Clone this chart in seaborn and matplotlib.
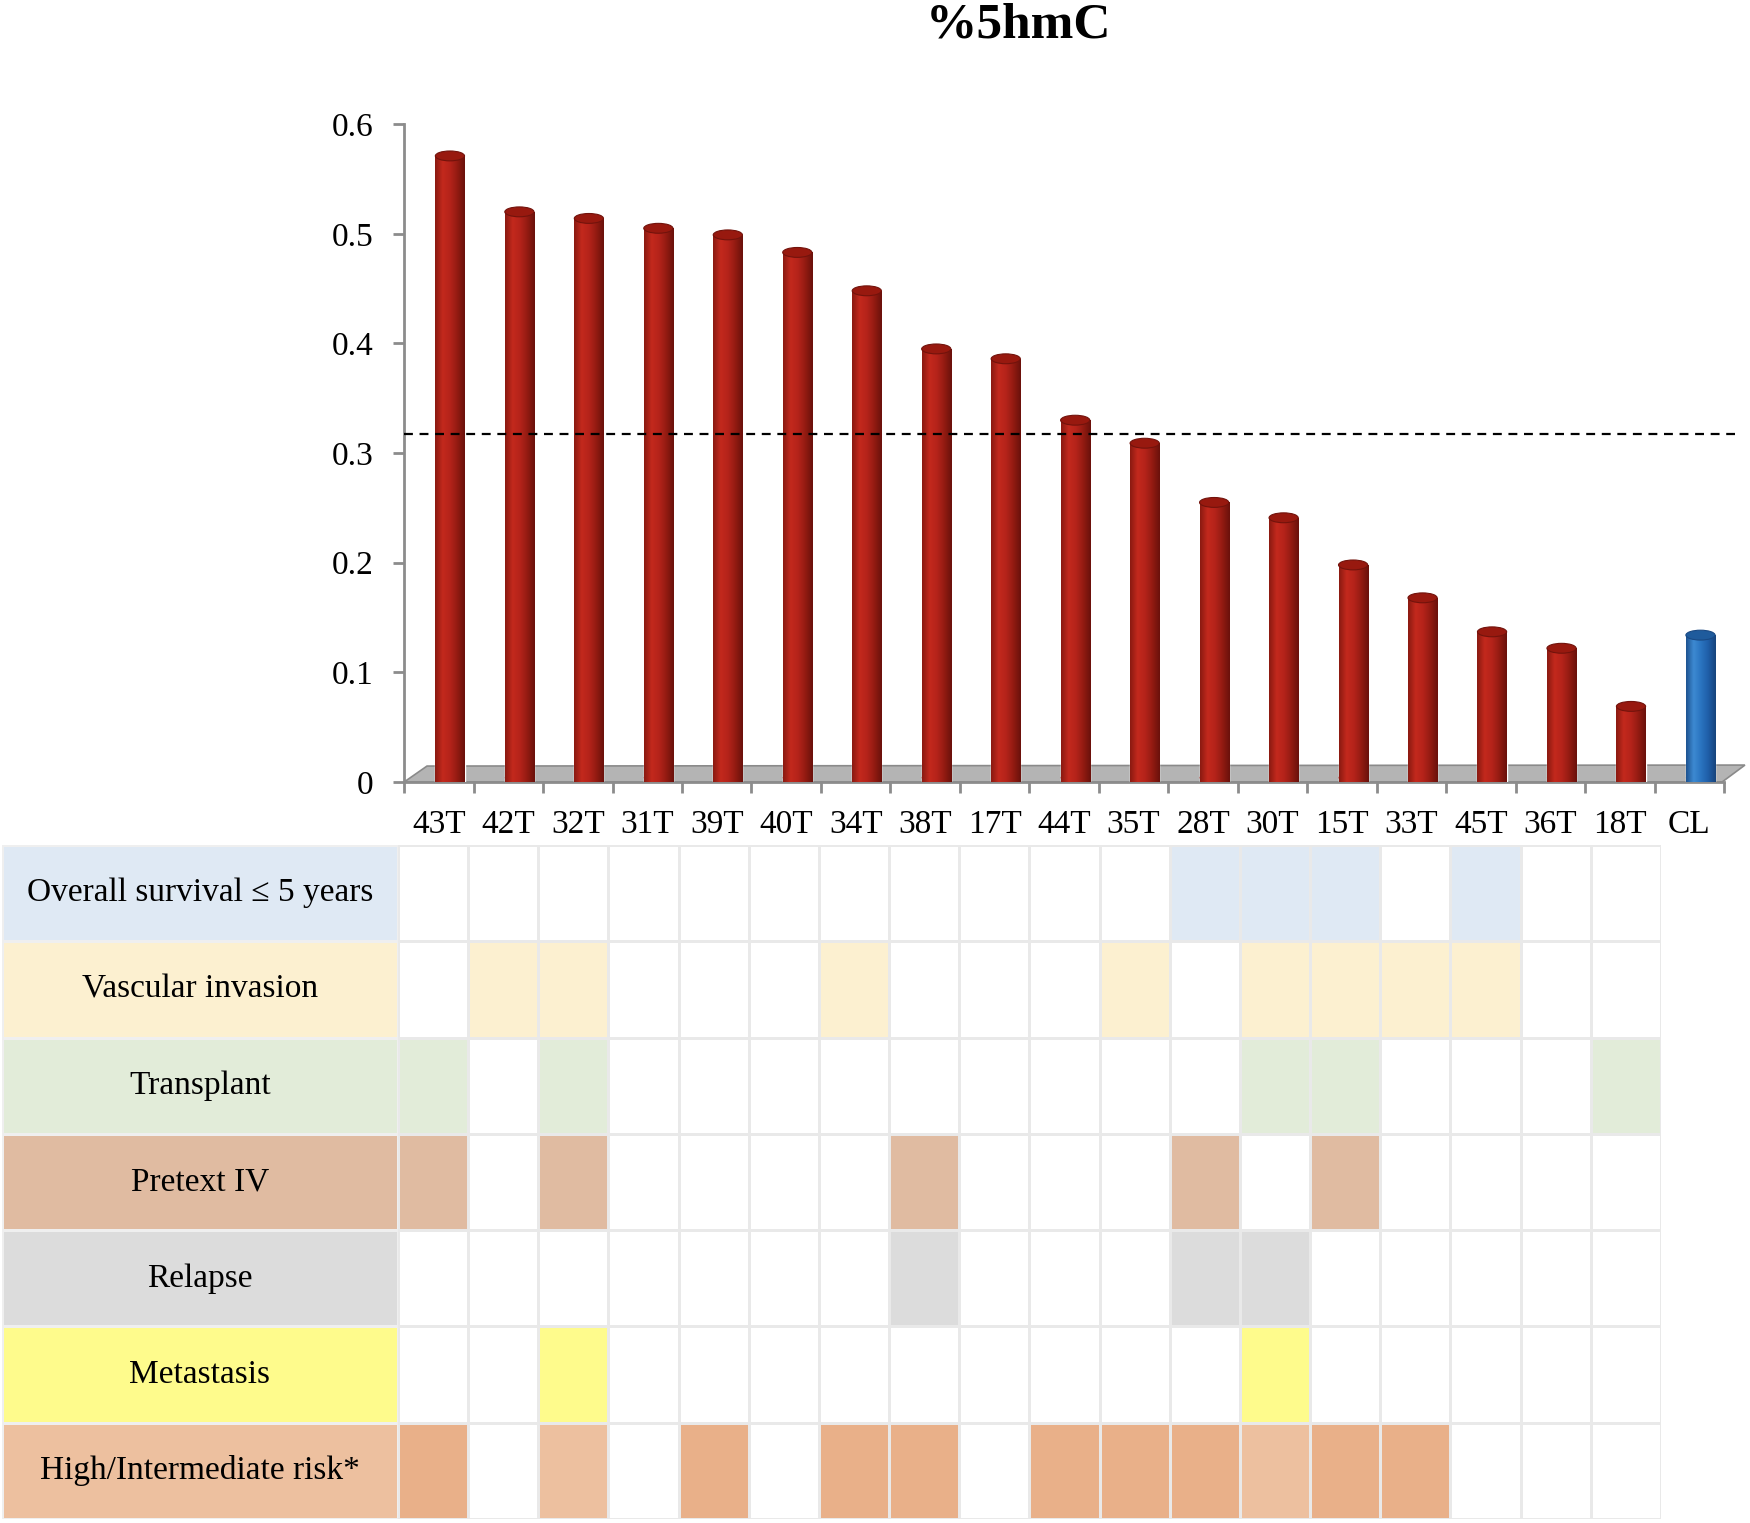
import numpy as np
import pandas as pd
import matplotlib
matplotlib.use("Agg")
import matplotlib.pyplot as plt
import seaborn as sns
from matplotlib.colors import ListedColormap, LinearSegmentedColormap
from matplotlib.patches import Ellipse, Polygon

# --- data ---
samples = ["43T", "42T", "32T", "31T", "39T", "40T", "34T", "38T", "17T", "44T",
           "35T", "28T", "30T", "15T", "33T", "45T", "36T", "18T", "CL"]
hmc = [0.571, 0.520, 0.514, 0.505, 0.499, 0.483, 0.448, 0.395, 0.386, 0.330,
       0.309, 0.255, 0.241, 0.198, 0.168, 0.137, 0.122, 0.069, 0.134]
group = ["tumor"] * 18 + ["cell line"]
threshold = 0.317

features = ["Overall survival \u2264 5 years", "Vascular invasion", "Transplant",
            "Pretext IV", "Relapse", "Metastasis", "High/Intermediate risk*"]
os_5y      = [0, 0, 0, 0, 0, 0, 0, 0, 0, 0, 0, 1, 1, 1, 0, 1, 0, 0]
vascular   = [0, 1, 1, 0, 0, 0, 1, 0, 0, 0, 1, 0, 1, 1, 1, 1, 0, 0]
transplant = [1, 0, 1, 0, 0, 0, 0, 0, 0, 0, 0, 0, 1, 1, 0, 0, 0, 1]
pretext_iv = [1, 0, 1, 0, 0, 0, 0, 1, 0, 0, 0, 1, 0, 1, 0, 0, 0, 0]
relapse    = [0, 0, 0, 0, 0, 0, 0, 1, 0, 0, 0, 1, 1, 0, 0, 0, 0, 0]
metastasis = [0, 0, 1, 0, 0, 0, 0, 0, 0, 0, 0, 0, 1, 0, 0, 0, 0, 0]
# 1 = high risk, 2 = intermediate risk
risk       = [1, 0, 2, 0, 1, 0, 1, 1, 0, 1, 1, 1, 2, 1, 1, 0, 0, 0]

row_colors = ["#dfe9f4", "#fcf0d0", "#e2ecd9", "#e0bba1", "#dcdcdc", "#fefb8c", "#e9b089"]
intermediate_color = "#edc09f"

sns.set_theme(style="white")
plt.rcParams["font.family"] = ["Liberation Serif", "DejaVu Serif"]
plt.rcParams.update({"text.color": "black", "xtick.labelcolor": "black",
                     "ytick.labelcolor": "black"})

fig = plt.figure(figsize=(17.5, 15.23), dpi=100)

# --- bar chart ---
ax = fig.add_axes([0.2309, 0.4865, 0.7543, 0.4320])
df = pd.DataFrame({"sample": samples, "hmc": hmc, "group": group})
sns.barplot(data=df, x="sample", y="hmc", hue="group",
            palette={"tumor": "#b5231a", "cell line": "#2a74c0"},
            width=0.42, dodge=False, legend=False, ax=ax, zorder=3)

# cylinder shading (bars sit a bit to the right, on the floor's depth)
shades = {
    "tumor": LinearSegmentedColormap.from_list(
        "red", ["#8a1a11", "#c3291d", "#b5231a", "#931b12", "#6a110b"]),
    "cell line": LinearSegmentedColormap.from_list(
        "blue", ["#1d5290", "#3d8ad2", "#2a74c0", "#1f5ea8", "#17447c"]),
}
caps = {"tumor": "#98190f", "cell line": "#1f5b9c"}
grad = np.linspace(0, 1, 64)[None, :]
bars = sorted(ax.patches, key=lambda p: p.get_x())
for p, g in zip(bars, group):
    p.set_x(p.get_x() + 0.16)
    x0, w, h = p.get_x(), p.get_width(), p.get_height()
    im = ax.imshow(grad, extent=[x0, x0 + w, 0, h], aspect="auto",
                   cmap=shades[g], zorder=3.5, interpolation="bicubic")
    im.set_clip_path(p)
    ax.add_patch(Ellipse((x0 + w / 2, h), w, 0.009, facecolor=caps[g],
                         edgecolor=shades[g](0.95), lw=0.8, zorder=4))
    ax.add_patch(Ellipse((x0 + w / 2, 0.004), w, 0.009, facecolor=shades[g](0.5),
                         edgecolor="none", zorder=3.4))
ax.set_xlim(-0.5, 18.5)
ax.set_ylim(0, 0.6)

# 3D floor
floor = Polygon([(-0.5, 0), (18.47, 0), (18.8, 0.0155), (-0.17, 0.0146)],
                closed=True, facecolor="#b4b4b4", edgecolor="#8a8a8a",
                lw=1.2, zorder=1, clip_on=False)
ax.add_patch(floor)

ax.axhline(threshold, xmin=0, xmax=1.008, color="black", lw=1.6,
           ls=(0, (4, 3)), zorder=5, clip_on=False)

for s in ["top", "right"]:
    ax.spines[s].set_visible(False)
for s in ["left", "bottom"]:
    ax.spines[s].set_color("#8c8c8c")
    ax.spines[s].set_linewidth(2)

ax.set_yticks(np.arange(0, 0.61, 0.1))
ax.set_yticklabels(["0", "0.1", "0.2", "0.3", "0.4", "0.5", "0.6"])
ax.tick_params(axis="y", left=True, length=8, width=2, color="#8c8c8c",
               pad=14, labelsize=24, labelcolor="black")
ax.set_xticks(range(len(samples)))
ax.set_xticklabels(samples)
ax.set_xticks(np.arange(-0.5, 18.6, 1), minor=True)
ax.tick_params(axis="x", which="major", length=0, pad=20, labelsize=24,
               labelcolor="black")
ax.tick_params(axis="x", which="minor", bottom=True, length=8, width=2,
               color="#8c8c8c")
ax.set_xlabel("")
ax.set_ylabel("")
ax.set_facecolor("none")

fig.text(0.582, 0.983, "%5hmC", ha="center", va="center",
         fontsize=37, fontweight="bold", color="black")

# --- clinical feature table ---
codes = np.array([os_5y, vascular, transplant, pretext_iv, relapse, metastasis, risk],
                 dtype=float)
cell_codes = np.zeros_like(codes)
for i in range(6):
    cell_codes[i] = np.where(codes[i] == 1, i + 1, 0)
cell_codes[6] = np.where(codes[6] == 1, 7, np.where(codes[6] == 2, 8, 0))
cmap = ListedColormap(["#ffffff"] + row_colors + [intermediate_color])

axt = fig.add_axes([0.2274, 0.0026, 0.7217, 0.4426])
sns.heatmap(cell_codes, cmap=cmap, vmin=-0.5, vmax=8.5, cbar=False,
            linewidths=1.0, linecolor="#e9e9e9", xticklabels=False,
            yticklabels=False, ax=axt)

axl = fig.add_axes([0.0011, 0.0026, 0.2263, 0.4426])
label_codes = np.array([[1], [2], [3], [4], [5], [6], [8]], dtype=float)
sns.heatmap(label_codes, cmap=cmap, vmin=-0.5, vmax=8.5, cbar=False,
            linewidths=1.0, linecolor="#efefef", xticklabels=False,
            yticklabels=False, ax=axl)
for i, name in enumerate(features):
    axl.text(0.5, i + 0.5, name, ha="center", va="center", fontsize=24,
             color="black")

fig.savefig("out.png", dpi=100, facecolor="white")
